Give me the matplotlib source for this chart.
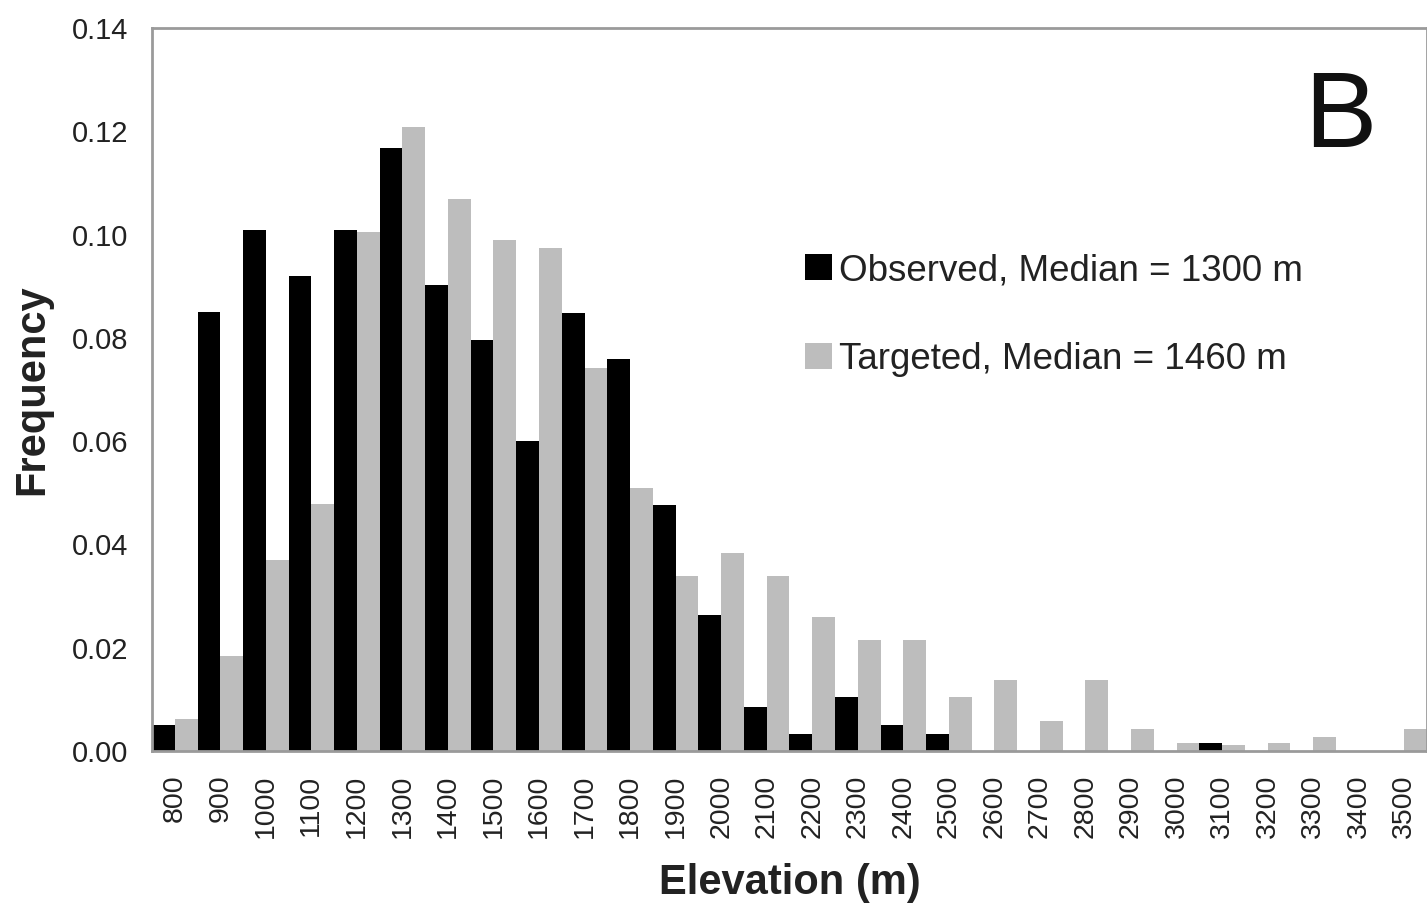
import matplotlib
matplotlib.use("Agg")
import matplotlib.pyplot as plt
import numpy as np

plt.rcParams['font.family'] = ['Liberation Sans', 'DejaVu Sans']

elevation = [800, 900, 1000, 1100, 1200, 1300, 1400, 1500, 1600, 1700,
             1800, 1900, 2000, 2100, 2200, 2300, 2400, 2500, 2600, 2700,
             2800, 2900, 3000, 3100, 3200, 3300, 3400, 3500]
observed = [0.0050, 0.0850, 0.1008, 0.0920, 0.1008, 0.1167, 0.0902, 0.0795,
            0.0600, 0.0849, 0.0760, 0.0477, 0.0263, 0.0086, 0.0033, 0.0104,
            0.0050, 0.0033, 0.0, 0.0, 0.0, 0.0, 0.0, 0.0015, 0.0, 0.0, 0.0, 0.0]
targeted = [0.0061, 0.0183, 0.0369, 0.0478, 0.1005, 0.1208, 0.1068, 0.0990,
            0.0975, 0.0742, 0.0510, 0.0339, 0.0384, 0.0338, 0.0260, 0.0214,
            0.0214, 0.0105, 0.0137, 0.0059, 0.0137, 0.0043, 0.0015, 0.0012,
            0.0015, 0.0028, 0.0, 0.0043]
obs_label = "Observed, Median = 1300 m"
tgt_label = "Targeted, Median = 1460 m"

fig = plt.figure(figsize=(14.27, 9.05), dpi=100)
ax = fig.add_axes([0.1065, 0.1702, 0.8935, 0.7988])

x = np.arange(len(elevation))
w = 0.5
b1 = ax.bar(x - w / 2, observed, width=w, color='black', label=obs_label)
b2 = ax.bar(x + w / 2, targeted, width=w, color='#bdbdbd', label=tgt_label)

ax.set_xlim(-0.5, len(elevation) - 0.5)
ax.set_ylim(0, 0.14)
yt = np.arange(0, 0.1401, 0.02)
ax.set_yticks(yt)
ax.set_yticklabels([f"{v:.2f}" for v in yt])
ax.set_xticks(x)
ax.set_xticklabels([str(e) for e in elevation], rotation=90)
ax.tick_params(axis='both', length=0, colors='#222222')
ax.tick_params(axis='y', pad=17, labelsize=21)
ax.tick_params(axis='x', pad=17, labelsize=20.5)

for s in ax.spines.values():
    s.set_color('#9a9a9a')
    s.set_linewidth(2)

ax.set_xlabel("Elevation (m)", fontsize=30, fontweight='bold', labelpad=18,
              color='#222222')
ax.set_ylabel("Frequency", fontsize=30, fontweight='bold', labelpad=14,
              color='#222222')

leg = ax.legend(handles=[b1, b2], loc='upper left', bbox_to_anchor=(0.498, 0.714),
                frameon=False, fontsize=26.5, handlelength=0.72, handleheight=0.72,
                handletextpad=0.2, labelspacing=1.45, borderpad=0)
for t in leg.get_texts():
    t.set_color('#222222')

ax.text(0.932, 0.874, "B", transform=ax.transAxes, fontsize=78,
        ha='center', va='center', color='#111111')

fig.savefig("out.png", dpi=100)
